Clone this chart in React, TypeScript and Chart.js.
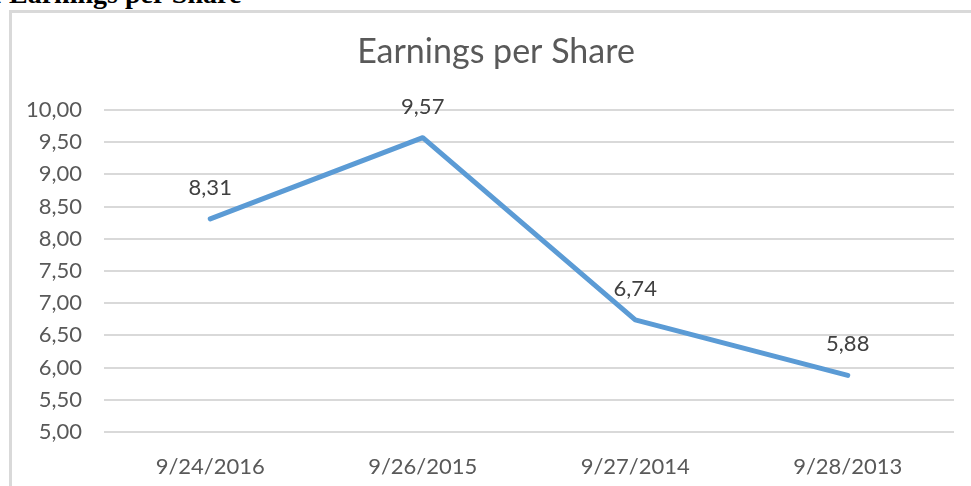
import React, { useEffect, useRef } from "react";
import { Chart, registerables } from "chart.js";

Chart.register(...registerables);

const categories = ["9/24/2016", "9/26/2015", "9/27/2014", "9/28/2013"];
const epsValues = [8.31, 9.57, 6.74, 5.88];
const yMin = 5;
const yMax = 10;
const yStep = 0.5;
const chartTitle = "Earnings per Share";
const headerText = "1 Earnings per Share";

const fmt = (v: number) => v.toFixed(2).replace(".", ",");

const dataLabelPlugin = {
  id: "dataLabels",
  afterDatasetsDraw(chart: any) {
    const ctx = chart.ctx;
    const meta = chart.getDatasetMeta(0);
    ctx.save();
    ctx.font = "22px Lato";
    ctx.fillStyle = "#404040";
    ctx.textAlign = "center";
    ctx.textBaseline = "middle";
    meta.data.forEach((pt: any, i: number) => {
      ctx.fillText(fmt(epsValues[i]), pt.x, pt.y - 31);
    });
    ctx.restore();
  },
};

// Chart title centred over the chart frame (frame spans x≈9 to beyond the right edge)
const frameTitlePlugin = {
  id: "frameTitle",
  afterDraw(chart: any) {
    const ctx = chart.ctx;
    ctx.save();
    ctx.font = "34px Lato";
    ctx.fillStyle = "#595959";
    ctx.textAlign = "center";
    ctx.textBaseline = "middle";
    ctx.fillText(chartTitle, 496, 52.5);
    ctx.restore();
  },
};

export default function App() {
  const ref = useRef<HTMLCanvasElement | null>(null);
  useEffect(() => {
    if (!ref.current) return;
    const chart = new Chart(ref.current, {
      type: "line",
      data: {
        labels: categories,
        datasets: [
          {
            data: epsValues,
            borderColor: "#5B9BD5",
            borderWidth: 5,
            pointRadius: 0,
            tension: 0,
            borderCapStyle: "round",
            borderJoinStyle: "round",
          },
        ],
      },
      options: {
        animation: false,
        responsive: false,
        devicePixelRatio: 1,
        layout: { padding: { left: 0, right: 17, top: 110, bottom: 0 } },
        plugins: {
          legend: { display: false },
          tooltip: { enabled: false },
          title: { display: false },
        },
        scales: {
          x: {
            offset: true,
            grid: { display: false },
            border: { display: false },
            ticks: {
              color: "#595959",
              font: { family: "Lato", size: 22 },
              padding: 14,
              maxRotation: 0,
            },
            afterFit: (s: any) => {
              s.height = 54;
            },
          },
          y: {
            min: yMin,
            max: yMax,
            grid: { color: "#d9d9d9", lineWidth: 2, drawTicks: false },
            border: { display: false },
            ticks: {
              stepSize: yStep,
              color: "#595959",
              font: { family: "Lato", size: 22 },
              padding: 22,
              callback: (v: any) => fmt(Number(v)),
            },
            afterFit: (s: any) => {
              s.width = 104;
            },
          },
        },
      },
      plugins: [dataLabelPlugin, frameTitlePlugin],
    });
    return () => chart.destroy();
  }, []);

  return (
    <div
      style={{
        position: "fixed",
        left: 0,
        top: 0,
        width: 971,
        height: 486,
        overflow: "hidden",
        background: "#ffffff",
      }}
    >
      <div
        style={{
          position: "absolute",
          left: -12,
          top: -20,
          fontFamily: "'Liberation Serif', 'Times New Roman', serif",
          fontWeight: "bold",
          fontSize: 28,
          lineHeight: 1,
          whiteSpace: "nowrap",
          color: "#000",
        }}
      >
        {headerText}
      </div>
      <div
        style={{
          position: "absolute",
          left: 9,
          top: 10,
          width: 1200,
          height: 1200,
          border: "3px solid #d9d9d9",
          boxSizing: "border-box",
        }}
      />
      <canvas
        ref={ref}
        width={971}
        height={486}
        style={{ position: "absolute", left: 0, top: 0, width: 971, height: 486 }}
      />
    </div>
  );
}
